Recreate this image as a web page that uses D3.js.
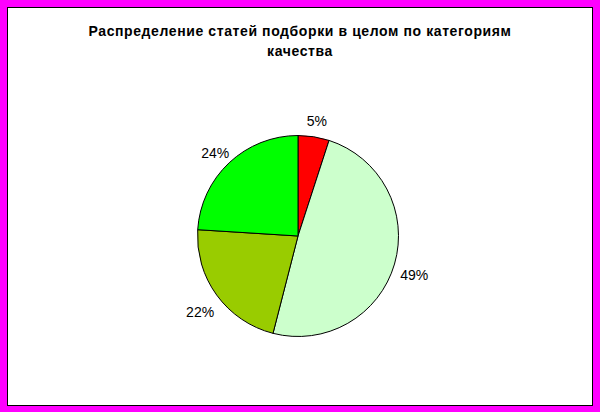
<!DOCTYPE html>
<html><head><meta charset="utf-8">
<script src="https://cdn.jsdelivr.net/npm/d3@7"></script>
<style>html,body{margin:0;padding:0;background:#fff;}svg{display:block;}</style>
</head><body>
<svg id="c" width="600" height="412"></svg>
<script>
const titleLines = ["Распределение статей подборки в целом по категориям", "качества"];
const categories = ["Категория 1", "Категория 2", "Категория 3", "Категория 4"];
const values = [5, 49, 22, 24];
const colors = ["#FF0000", "#CCFFCC", "#99CC00", "#00FF00"];

const svg = d3.select("#c");
const W = 600, H = 412;
// magenta frame with inner black line
svg.append("rect").attr("x",0).attr("y",0).attr("width",W).attr("height",H).attr("fill","#FF00FF");
svg.append("rect").attr("x",7.5).attr("y",7.5).attr("width",585).attr("height",398)
  .attr("fill","#fff").attr("stroke","#000").attr("stroke-width",1);

svg.append("g").selectAll("text").data(titleLines).join("text")
  .attr("x", 300).attr("y",(d,i)=>36+i*20)
  .attr("text-anchor","middle")
  .attr("font-family","Liberation Sans, Arial, sans-serif")
  .attr("font-weight","bold").attr("font-size",14).attr("fill","#000")
  .attr("letter-spacing", 0.6)
  .text(d=>d);

const cx = 298, cy = 236, r = 100.5;
const pie = d3.pie().sort(null).value(d=>d);
const arcs = pie(values);
const arc = d3.arc().innerRadius(0).outerRadius(r);
const g = svg.append("g").attr("transform",`translate(${cx},${cy})`);
g.selectAll("path").data(arcs).join("path")
  .attr("d",arc).attr("fill",(d,i)=>colors[i])
  .attr("stroke","#000").attr("stroke-width",1).attr("stroke-linejoin","round");

const labelArc = d3.arc().innerRadius(121).outerRadius(121);
const lg = svg.append("g").attr("transform",`translate(${cx},${cy+5})`);
lg.selectAll("text").data(arcs).join("text")
  .attr("transform",d=>`translate(${labelArc.centroid(d)})`)
  .attr("text-anchor","middle").attr("dy","0.35em")
  .attr("font-family","Liberation Sans, Arial, sans-serif")
  .attr("font-size",14).attr("fill","#000")
  .text(d=>d.data+"%");
</script>
</body></html>
